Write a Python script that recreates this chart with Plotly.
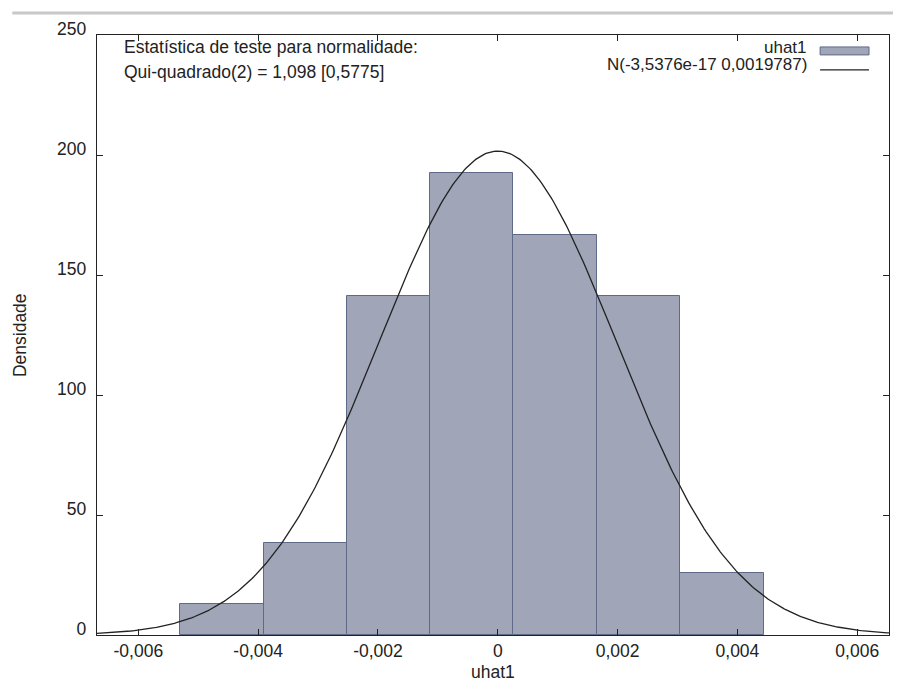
import numpy as np
import plotly.graph_objects as go

# ---- data ----
bin_edges = [-0.00530, -0.00391, -0.00252, -0.001127, 0.000259, 0.00166, 0.003046, 0.00445]
densities = [12.8, 38.5, 141.1, 192.4, 166.7, 141.1, 25.7]
normal_mean = -3.5376e-17
normal_sd = 0.0019787
x_tick_vals = [-0.006, -0.004, -0.002, 0, 0.002, 0.004, 0.006]
x_tick_text = ["-0,006", "-0,004", "-0,002", "0", "0,002", "0,004", "0,006"]
y_tick_vals = [0, 50, 100, 150, 200, 250]
y_tick_text = ["0", "50", "100", "150", "200", "250"]
x_range = [-0.00669, 0.00653]
y_range = [0, 250]

centers = [(a + b) / 2 for a, b in zip(bin_edges[:-1], bin_edges[1:])]
widths = [b - a for a, b in zip(bin_edges[:-1], bin_edges[1:])]

xs = np.linspace(x_range[0], x_range[1], 400)
pdf = np.exp(-0.5 * ((xs - normal_mean) / normal_sd) ** 2) / (normal_sd * np.sqrt(2 * np.pi))

FONT = "Liberation Sans, Arial, sans-serif"
TXT = "#222222"
BAR_FILL = "#a0a5b8"
BAR_EDGE = "#5f6a88"
FS = 17.5

fig = go.Figure()
fig.add_trace(go.Bar(x=centers, y=densities, width=widths,
                     marker=dict(color=BAR_FILL, line=dict(color=BAR_EDGE, width=1)),
                     name="uhat1", showlegend=False))
fig.add_trace(go.Scatter(x=xs, y=pdf, mode="lines",
                         line=dict(color=TXT, width=1.3),
                         name="N(-3,5376e-17 0,0019787)", showlegend=False))

# page body has an 8px margin, so the figure is 8px smaller and margins shifted
fig.update_layout(
    width=893, height=675,
    margin=dict(l=89, r=11, t=25, b=48),
    paper_bgcolor="white", plot_bgcolor="white",
    font=dict(family=FONT, size=FS, color=TXT),
    bargap=0,
    xaxis=dict(range=x_range, tickvals=x_tick_vals, ticktext=x_tick_text,
               ticks="inside", ticklen=6, tickcolor=TXT, tickfont=dict(size=FS),
               ticklabelstandoff=0,
               showline=True, linecolor=TXT, linewidth=1.4, mirror="ticks",
               showgrid=False, zeroline=False),
    yaxis=dict(range=y_range, tickvals=y_tick_vals, ticktext=y_tick_text,
               ticks="inside", ticklen=6, tickcolor=TXT, tickfont=dict(size=FS),
               ticklabelstandoff=6, ticklabelshift=-6,
               showline=True, linecolor=TXT, linewidth=1.4, mirror="ticks",
               showgrid=False, zeroline=False),
)

# gray separator line at the top of the page
fig.add_shape(type="line", xref="paper", yref="paper",
              x0=-0.107, x1=1.014, y0=1.0365, y1=1.0365,
              line=dict(color="#c8c8c8", width=3))

# axis titles
fig.add_annotation(xref="paper", yref="paper", x=0.4994, y=-0.0615,
                   text="uhat1", showarrow=False, xanchor="center", yanchor="middle",
                   font=dict(size=FS, color=TXT))
fig.add_annotation(xref="paper", yref="paper", x=-0.0971, y=0.5,
                   text="Densidade", textangle=-90, showarrow=False,
                   xanchor="center", yanchor="middle", font=dict(size=FS, color=TXT))

# test statistic annotation
fig.add_annotation(xref="paper", yref="paper", x=0.0315, y=0.9800,
                   text="Estatística de teste para normalidade:",
                   showarrow=False, xanchor="left", yanchor="middle",
                   font=dict(size=FS, color=TXT))
fig.add_annotation(xref="paper", yref="paper", x=0.0315, y=0.9385,
                   text="Qui-quadrado(2) = 1,098 [0,5775]",
                   showarrow=False, xanchor="left", yanchor="middle",
                   font=dict(size=FS, color=TXT))

# manual legend (text right-aligned, key to the right of it)
fig.add_annotation(xref="paper", yref="paper", x=0.8979, y=0.9800,
                   text="uhat1", showarrow=False, xanchor="right", yanchor="middle",
                   font=dict(size=17, color=TXT), borderpad=0)
fig.add_annotation(xref="paper", yref="paper", x=0.8979, y=0.9510,
                   text="N(-3,5376e-17 0,0019787)", showarrow=False,
                   xanchor="right", yanchor="middle",
                   font=dict(size=17, color=TXT), borderpad=0)
fig.add_shape(type="rect", xref="paper", yref="paper",
              x0=0.913, x1=0.9748, y0=0.9668, y1=0.9801,
              fillcolor=BAR_FILL, line=dict(color=BAR_EDGE, width=1))
fig.add_shape(type="line", xref="paper", yref="paper",
              x0=0.913, x1=0.9748, y0=0.9419, y1=0.9419,
              line=dict(color=TXT, width=1.3))

fig.write_html("out.html")
